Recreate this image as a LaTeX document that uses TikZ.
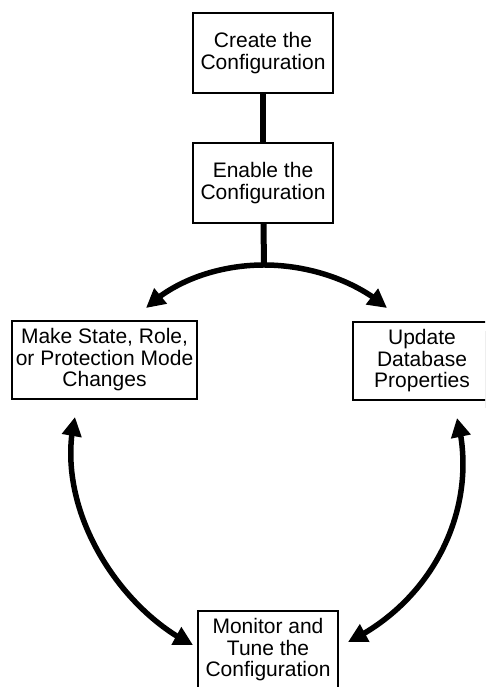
\documentclass[tikz,border=0pt]{standalone}
\usepackage{fontspec}
\setmainfont{Liberation Sans}
\usetikzlibrary{arrows.meta,bending,backgrounds}
\tikzset{
  stepbox/.style={draw=black, line width=2pt, fill=white, inner sep=0pt,
    align=center, font=\fontsize{21}{21.5}\selectfont},
  shadowfill/.style={fill=gray!15, draw=none},
  conn/.style={line width=6pt},
  bigarrow/.style={line width=5.5pt, {Triangle[length=19pt,width=19pt]}-{Triangle[length=19pt,width=19pt]}},
  onearrow/.style={line width=5.5pt, -{Triangle[length=19pt,width=19pt]}}
}
\begin{document}
\begin{tikzpicture}[x=1pt,y=1pt]
\clip (0,0) rectangle (485,687);
\fill[white] (0,0) rectangle (485,687);

\node[stepbox, minimum width=140pt, minimum height=80pt] (b1) at (263,634) {Create the\\Configuration};
\node[stepbox, minimum width=140pt, minimum height=80pt] (b2) at (263,504) {Enable the\\Configuration};
\node[stepbox, minimum width=185pt, minimum height=78pt] (b3) at (104.5,327) {Make State, Role,\\or Protection Mode\\Changes};
\node[stepbox, minimum width=138pt, minimum height=78pt] (b4) at (422,326) {Update\\Database\\Properties};
\node[stepbox, minimum width=140pt, minimum height=78pt] (b5) at (268,37) {Monitor and\\Tune the\\Configuration};

\begin{scope}[on background layer]
  \foreach \b in {b1,b2,b3,b4,b5}{
    \fill[shadowfill] ([shift={(10pt,-10pt)}]\b.north west) rectangle ([shift={(6pt,-7pt)}]\b.south east);
  }
\end{scope}

\coordinate (J) at (264,422);
\coordinate (tl) at (146,379);
\coordinate (tr) at (387,379);
\coordinate (la) at (75,270);
\coordinate (lb) at (193,42);
\coordinate (ra) at (457,269);
\coordinate (rb) at (348,45);

\draw[conn] (b1) -- (b2);
\draw[conn] (b2) -- (J);

\draw[onearrow] (J) .. controls (220,422) and (175,407) .. (tl);
\draw[onearrow] (J) .. controls (308,422) and (355,407) .. (tr);

\draw[bigarrow] (lb) .. controls (120,77) and (53,179) .. (la);
\draw[bigarrow] (rb) .. controls (435,87) and (480,182) .. (ra);
\end{tikzpicture}
\end{document}
